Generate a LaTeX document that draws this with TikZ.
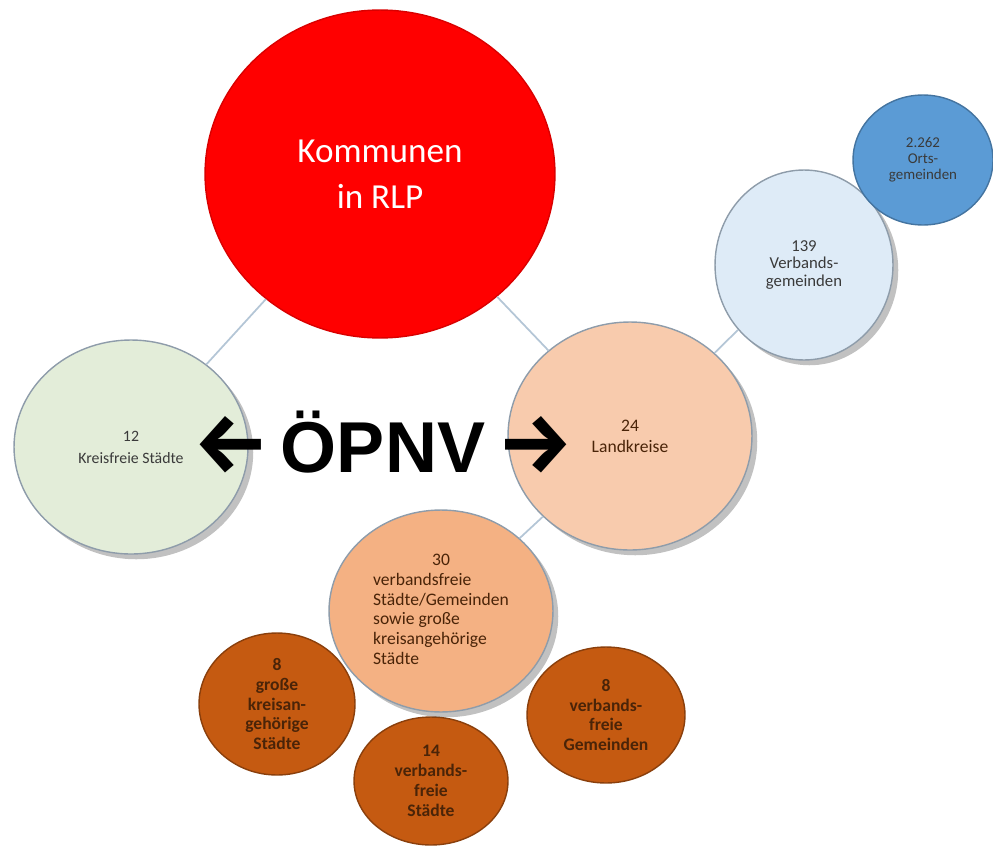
\documentclass[tikz,border=0pt]{standalone}
\usepackage{fontspec}
\setmainfont{Carlito}
\newfontfamily\oepnvfont{Liberation Sans}
\newfontfamily\pfeilfont{Fira Sans}
\usetikzlibrary{shapes.geometric,shadows}
\definecolor{rotkreis}{HTML}{FF0000}
\definecolor{gruenkreis}{HTML}{E3EDD9}
\definecolor{pfirsich}{HTML}{F8CBAD}
\definecolor{hellblau}{HTML}{DEEBF7}
\definecolor{mittelblau}{HTML}{5B9BD5}
\definecolor{hellorange}{HTML}{F4B183}
\definecolor{dunkelorange}{HTML}{C55A11}
\definecolor{randgrau}{HTML}{8E9CAA}
\definecolor{linie}{HTML}{B4C6D6}
\definecolor{schrift}{HTML}{3A3A3A}
\definecolor{braunschrift}{HTML}{4A2408}
\begin{document}
\begin{tikzpicture}[x=0.02cm,y=-0.02cm]
				\tikzstyle{kreis}=[ellipse,inner sep=0pt,draw=randgrau,line width=0.8pt,align=center,text=schrift]
				\tikzstyle{schatten}=[drop shadow={shadow xshift=3pt,shadow yshift=-3pt,opacity=0.35,fill=black!70}]
				\tikzstyle{gross}=[kreis,fill=rotkreis,draw=red!85!black,text=white,font=\fontsize{20}{26}\selectfont]
				\tikzstyle{mittel}=[kreis,schatten,font=\fontsize{10}{12}\selectfont]
				\tikzstyle{klein}=[kreis,fill=dunkelorange,draw=dunkelorange!70!black,text=braunschrift,font=\fontsize{10}{11.3}\selectfont\bfseries]
				\tikzstyle{verbindung}=[draw=linie,line width=1pt]
				\useasboundingbox (0,0) rectangle (993,845);
				
				% Oberste Ebene
				\node[gross,minimum width=7cm,minimum height=6.56cm] (kommunen) at (380,174) {Kommunen\\in RLP};
				
				% Zweite Ebene
				\node[mittel,fill=gruenkreis,minimum width=4.68cm,minimum height=4.28cm,font=\fontsize{9}{12.5}\selectfont] (kreisfrei) at (131,447) {12\\Kreisfreie Städte};
				\node[mittel,fill=pfirsich,minimum width=4.88cm,minimum height=4.56cm,text=braunschrift] (landkreise) at (630,436) {24\\Landkreise};
				
				% Unterhalb der Landkreise
				\node[mittel,fill=hellblau,minimum width=3.56cm,minimum height=3.8cm,font=\fontsize{9.5}{10}\selectfont] (verbandsgem) at (804,265) {139\\Verbands-\\gemeinden};
				\node[kreis,fill=mittelblau,draw=mittelblau!75!black,minimum width=2.8cm,minimum height=2.6cm,font=\fontsize{8.5}{9}\selectfont] (ortsgem) at (923,160) {2.262\\Orts-\\gemeinden};
				
				% Verbandsfreie Kommunen
				\node[klein,minimum width=3.12cm,minimum height=2.84cm] (grosse) at (277,704) {8\\große\\kreisan-\\gehörige\\Städte};
				\node[klein,minimum width=3.08cm,minimum height=2.56cm] (staedte) at (431,781) {14\\verbands-\\freie\\Städte};
				\node[klein,minimum width=3.16cm,minimum height=2.72cm] (gemeinden) at (606,715) {8\\verbands-\\freie\\Gemeinden};
				\node[mittel,fill=hellorange,minimum width=4.48cm,minimum height=4.04cm,text=braunschrift,font=\fontsize{10}{11.3}\selectfont] (verbandsfrei) at (441,611)
				{\begin{tabular}{@{}l@{}}\multicolumn{1}{@{}c@{}}{30}\\verbandsfreie\\Städte/Gemeinden\\sowie große\\kreisangehörige\\Städte\end{tabular}};
				
				% Verbindungen
				\path[verbindung] (kommunen) -- (kreisfrei);
				\path[verbindung] (kommunen) -- (landkreise);
				\path[verbindung] (landkreise) -- (verbandsgem);
				\path[verbindung] (landkreise) -- (verbandsfrei);
				
				% OePNV
				\node[anchor=base,inner sep=0pt,font=\oepnvfont\bfseries\fontsize{41}{41}\selectfont] (oepnv) at (383,472) {{\pfeilfont\fontsize{48}{48}\selectfont ←}\,ÖPNV\,{\pfeilfont\fontsize{48}{48}\selectfont →}};
\end{tikzpicture}
\end{document}
